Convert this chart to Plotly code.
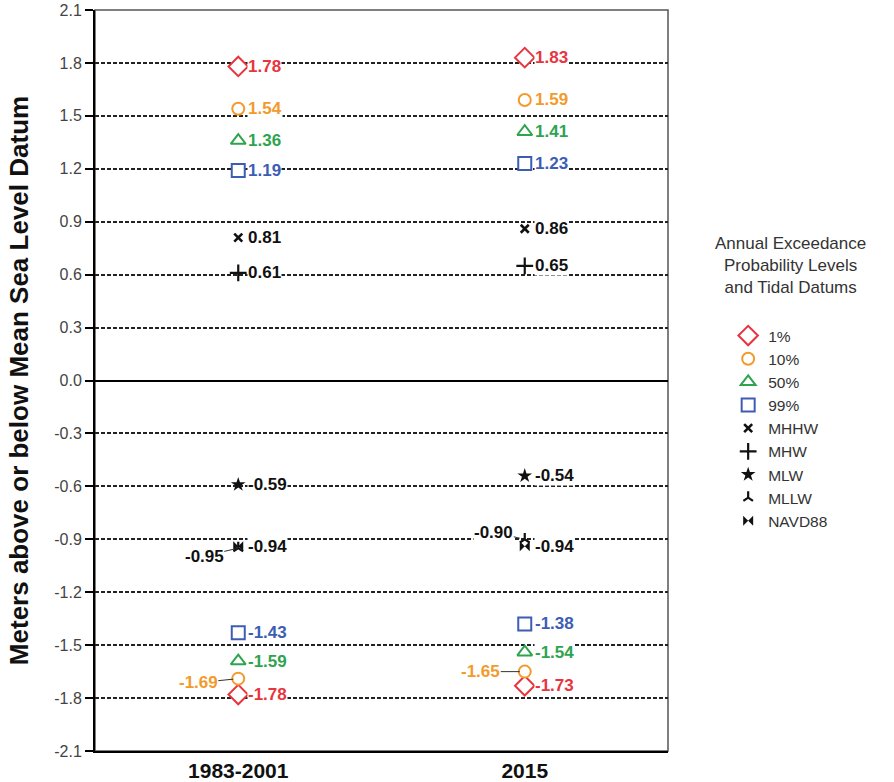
import plotly.graph_objects as go

# ---- data ----
periods = ["1983-2001", "2015"]

p1_high = [1.78, 1.83]
p1_low = [-1.78, -1.73]
p10_high = [1.54, 1.59]
p10_low = [-1.69, -1.65]
p50_high = [1.36, 1.41]
p50_low = [-1.59, -1.54]
p99_high = [1.19, 1.23]
p99_low = [-1.43, -1.38]

mhhw = [0.81, 0.86]
mhw = [0.61, 0.65]
mlw = [-0.59, -0.54]
mllw = [-0.95, -0.90]
navd88 = [-0.94, -0.94]

y_ticks = [2.1, 1.8, 1.5, 1.2, 0.9, 0.6, 0.3, 0.0, -0.3, -0.6, -0.9, -1.2, -1.5, -1.8, -2.1]

RED = "#e8343e"
ORANGE = "#f39a2b"
GREEN = "#2ea44f"
BLUE = "#3d5db5"
BLACK = "#111111"

LABEL_FONT = "Liberation Sans Narrow, Arial Narrow, Liberation Sans, Arial, sans-serif"
BASE_FONT = "Liberation Sans, Arial, sans-serif"

fig = go.Figure()

aep = [
    ("1%", p1_high, p1_low, RED, "diamond", 15),
    ("10%", p10_high, p10_low, ORANGE, "circle", 12),
    ("50%", p50_high, p50_low, GREEN, "triangle-up", 13),
    ("99%", p99_high, p99_low, BLUE, "square", 13),
]
for name, hi, lo, col, sym, sz in aep:
    fig.add_trace(go.Scatter(
        x=periods + periods, y=hi + lo, mode="markers", name=name,
        marker=dict(symbol=sym, size=sz, color="white", line=dict(color=col, width=2)),
    ))

datums = [
    ("MHHW", mhhw, "x-thin", 8, 2.6),
    ("MHW", mhw, "cross-thin", 12, 2.2),
    ("MLW", mlw, "star", 11, 0),
    ("MLLW", mllw, "y-up", 8, 2.2),
    ("NAVD88", navd88, "bowtie", 10, 0),
]
for name, vals, sym, sz, lw in datums:
    fig.add_trace(go.Scatter(
        x=periods, y=vals, mode="markers", name=name,
        marker=dict(symbol=sym, size=sz, color=BLACK, line=dict(color=BLACK, width=lw)),
    ))

annotations = []
LFONT = dict(family=LABEL_FONT, size=17, weight="bold")

def lab(i, y, col, xshift=9):
    annotations.append(dict(
        x=i, y=y, text=f"{y:.2f}", showarrow=False, xanchor="left", yanchor="middle",
        xshift=xshift, bgcolor="white", borderpad=0, font=dict(LFONT, color=col)))

for i in range(len(periods)):
    lab(i, p1_high[i], RED)
    lab(i, p1_low[i], RED)
    lab(i, p10_high[i], ORANGE)
    lab(i, p50_high[i], GREEN)
    lab(i, p50_low[i], GREEN)
    lab(i, p99_high[i], BLUE)
    lab(i, p99_low[i], BLUE)
    lab(i, mhhw[i], BLACK)
    lab(i, mhw[i], BLACK)
    lab(i, mlw[i], BLACK)
    lab(i, navd88[i], BLACK)

# labels placed left with leader lines
leader = [
    (0, p10_low[0], ORANGE, -40, 4),
    (1, p10_low[1], ORANGE, -44, 0),
    (0, mllw[0], BLACK, -34, 8),
    (1, mllw[1], BLACK, -31, -7),
]
for i, y, col, ax, ay in leader:
    annotations.append(dict(
        x=i, y=y, text=f"{y:.2f}", showarrow=True, arrowhead=0, arrowwidth=1,
        arrowcolor="#333333", ax=ax, ay=ay, standoff=5, bgcolor="white", borderpad=0,
        font=dict(LFONT, color=col),
    ))

# legend title
annotations.append(dict(
    xref="paper", yref="paper", x=1.213, y=0.70, xanchor="center", yanchor="top",
    text="Annual Exceedance<br>Probability Levels<br>and Tidal Datums", showarrow=False,
    font=dict(family=BASE_FONT, size=17, color="#333333"),
))

fig.update_layout(
    width=894, height=782,
    margin=dict(l=95, r=226, t=10, b=31, autoexpand=False),
    paper_bgcolor="white", plot_bgcolor="white",
    showlegend=True,
    legend=dict(x=1.105, y=0.583, xanchor="left", yanchor="top",
                font=dict(family=BASE_FONT, size=15.5, color="#333333"),
                bgcolor="rgba(0,0,0,0)", itemclick=False),
    annotations=annotations,
    font=dict(family=BASE_FONT),
    shapes=[dict(type="rect", xref="paper", yref="paper", x0=0, x1=1, y0=0, y1=1,
                 line=dict(color="#555555", width=1.5), layer="below")],
)

fig.update_xaxes(
    type="category", categoryorder="array", categoryarray=periods,
    range=[-0.5, 1.5], showgrid=False, zeroline=False, automargin=False,
    showline=True, linecolor="black", linewidth=2,
    ticks="", tickfont=dict(family=LABEL_FONT, size=21, color=BLACK, weight="bold"),
)
fig.update_yaxes(
    range=[-2.1, 2.1], tickvals=y_ticks, ticktext=[f"{v:.1f}" for v in y_ticks],
    showgrid=True, gridcolor="#222222", gridwidth=1.5, griddash="4px,2px",
    zeroline=True, zerolinecolor="black", zerolinewidth=1.8, automargin=False,
    showline=True, linecolor="black", linewidth=2,
    ticks="outside", ticklen=8, tickwidth=1.5, tickcolor="black",
    tickfont=dict(family=BASE_FONT, size=16, color="#444444"),
    title=dict(text="Meters above or below Mean Sea Level Datum", standoff=18,
               font=dict(family=BASE_FONT, size=26, color=BLACK, weight="bold")),
)

fig.write_html("out.html", config={"displayModeBar": False},
               post_script="document.body.style.margin='0';document.body.style.overflow='hidden';")
